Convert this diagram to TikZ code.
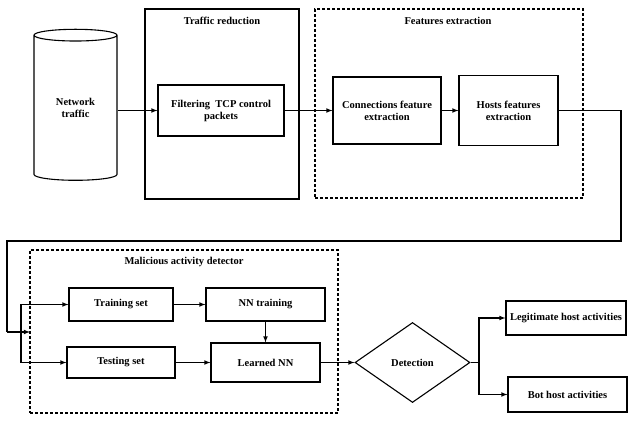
\documentclass[tikz,border=0pt]{standalone}
\usepackage{fontspec}
\setmainfont{Liberation Serif}
\usetikzlibrary{arrows,positioning,shapes.geometric}

\tikzset{
  blk/.style={draw, line width=1.1pt, align=center, inner sep=1pt},
  group/.style={draw, line width=1.1pt},
  dgroup/.style={draw, line width=1.1pt, dash pattern=on 3pt off 2pt},
  ttl/.style={inner sep=0pt},
  conn/.style={line width=1.1pt},
  arr/.style={conn, -latex}
}

\begin{document}
\begin{tikzpicture}[x=1pt, y=-1pt, font=\fontsize{10.5}{12}\selectfont\bfseries]
\useasboundingbox (0,0) rectangle (630,425);
% groups
\node[group, minimum width=154, minimum height=190] (tr) at (222,104) {};
\node[ttl] (trt) at (222,21) {Traffic reduction};
\node[dgroup, minimum width=268, minimum height=189] (fe) at (449,103.5) {};
\node[ttl] (fet) at (448,21) {Features extraction};
\node[dgroup, minimum width=308, minimum height=163] (mad) at (184,331.5) {};
\node[ttl] (madt) at (184,262) {Malicious activity detector};
% top row
\node[cylinder, shape border rotate=90, draw, line width=1.1pt, aspect=0.3,
      minimum width=83, minimum height=151, align=center, inner sep=0pt] (cyl) at (75.5,108) {Network\\traffic};
\node[blk, minimum width=126, minimum height=51] (filt) at (221,110.5) {Filtering~ TCP control\\packets};
\node[blk, minimum width=108, minimum height=67] (cfe) at (387,110.5) {Connections feature\\extraction};
\node[blk, minimum width=99, minimum height=70] (hfe) at (508.5,110.5) {Hosts features\\extraction};
% bottom row
\node[blk, minimum width=104, minimum height=33] (train) at (121,304.5) {Training set};
\node[blk, minimum width=119, minimum height=33] (nnt) at (265.5,304.5) {NN training};
\node[blk, minimum width=108, minimum height=31] (test) at (121,362.5) {Testing set};
\node[blk, minimum width=109, minimum height=39] (lnn) at (265.5,362.5) {Learned NN};
\node[diamond, draw, line width=1.1pt, inner sep=0pt, minimum width=115, minimum height=80] (det) at (412.5,362.5) {Detection};
\node[blk, minimum width=120, minimum height=34] (legit) at (566,318) {Legitimate host activities};
\node[blk, minimum width=119, minimum height=35] (bot) at (567.5,394.5) {Bot host activities};
% route points
\coordinate (r1) at (621,241);
\coordinate (r2) at (7,241);
\coordinate (r3) at (7,332);
\coordinate (inp) at (30,332);
\coordinate (split) at (21,332);
\coordinate (fork) at (479,362.5);
% connectors
\draw[arr] (cyl.east |- filt.west) -- (filt.west);
\draw[arr] (filt.east) -- (cfe.west);
\draw[arr] (cfe.east) -- (hfe.west);
\draw[conn] (hfe.east) -| (r1) -- (r2) -- (r3);
\draw[arr] (r3) -- (inp);
\draw[arr] (split) |- (train.west);
\draw[arr] (split) |- (test.west);
\draw[arr] (train.east) -- (nnt.west);
\draw[arr] (nnt.south) -- (lnn.north);
\draw[arr] (test.east) -- (lnn.west);
\draw[arr] (lnn.east) -- (det.west);
\draw[conn] (det.east) -- (fork);
\draw[arr] (fork) |- (legit.west);
\draw[arr] (fork) |- (bot.west);
\end{tikzpicture}
\end{document}
